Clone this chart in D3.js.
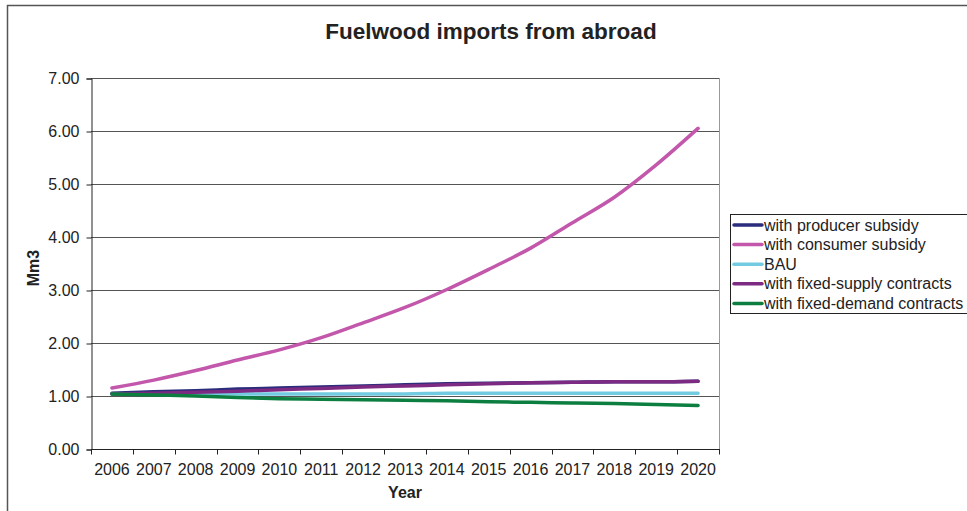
<!DOCTYPE html>
<html>
<head>
<meta charset="utf-8">
<script src="https://cdn.jsdelivr.net/npm/d3@7"></script>
<style>
  html, body { margin: 0; padding: 0; background: #fff; }
  svg { display: block; font-family: "Liberation Sans", Arial, sans-serif; }
</style>
</head>
<body>
<svg id="chart" width="967" height="511"></svg>
<script>
// Fuelwood imports from abroad, Mm3, by scenario
const years = ["2006","2007","2008","2009","2010","2011","2012","2013","2014","2015","2016","2017","2018","2019","2020"];
const producerSubsidy = [1.05,1.08,1.10,1.13,1.15,1.17,1.19,1.21,1.23,1.24,1.25,1.26,1.27,1.27,1.28];
const consumerSubsidy = [1.15,1.30,1.48,1.68,1.87,2.10,2.38,2.67,3.01,3.39,3.79,4.27,4.75,5.36,6.05];
const bau = [1.04,1.04,1.04,1.04,1.04,1.04,1.04,1.04,1.05,1.05,1.05,1.05,1.05,1.05,1.05];
const fixedSupply = [1.04,1.05,1.07,1.09,1.12,1.14,1.17,1.19,1.21,1.23,1.25,1.26,1.27,1.27,1.28];
const fixedDemand = [1.04,1.02,1.00,0.97,0.95,0.94,0.93,0.92,0.91,0.89,0.88,0.87,0.86,0.84,0.82];
const yTicks = [0,1,2,3,4,5,6,7];

const series = [
  { name: "with producer subsidy", values: producerSubsidy, color: "#2a2c7c" },
  { name: "with consumer subsidy", values: consumerSubsidy, color: "#c257ab" },
  { name: "BAU", values: bau, color: "#72cbe0" },
  { name: "with fixed-supply contracts", values: fixedSupply, color: "#7c2a82" },
  { name: "with fixed-demand contracts", values: fixedDemand, color: "#0c7e40" }
];

const svg = d3.select("#chart");
const plot = { left: 91, right: 719, top: 78, bottom: 449 };
const labelFont = 16;

// outer chart frame
svg.append("rect")
  .attr("x", 7.5).attr("y", 5.5)
  .attr("width", 970).attr("height", 520)
  .attr("fill", "none").attr("stroke", "#555").attr("stroke-width", 1.5);

const x = d3.scaleBand().domain(years).range([plot.left, plot.right]);
const y = d3.scaleLinear().domain([0, 7]).range([plot.bottom, plot.top]);

// horizontal gridlines
svg.append("g").selectAll("line").data(yTicks.filter(d => d > 0)).join("line")
  .attr("x1", plot.left).attr("x2", plot.right)
  .attr("y1", d => Math.round(y(d)) + 0.5).attr("y2", d => Math.round(y(d)) + 0.5)
  .attr("stroke", "#555").attr("stroke-width", 1);

// right edge of plot area
svg.append("line")
  .attr("x1", plot.right + 0.5).attr("x2", plot.right + 0.5)
  .attr("y1", plot.top).attr("y2", plot.bottom)
  .attr("stroke", "#999").attr("stroke-width", 1);

// y axis
const yAxis = svg.append("g")
  .attr("transform", `translate(${plot.left + 0.5},0.5)`)
  .call(d3.axisLeft(y).tickValues(yTicks).tickFormat(d3.format(".2f")).tickSize(5).tickPadding(7));
yAxis.select(".domain").attr("stroke", "#222");
yAxis.selectAll(".tick line").attr("stroke", "#222");
yAxis.selectAll("text").attr("font-size", labelFont).attr("fill", "#222")
  .attr("font-family", "Liberation Sans, Arial, sans-serif");

// x axis: ticks sit between categories
const xAxisG = svg.append("g").attr("transform", `translate(0,${plot.bottom + 0.5})`);
xAxisG.append("line")
  .attr("x1", plot.left).attr("x2", plot.right + 1)
  .attr("stroke", "#222");
const boundaries = years.map(d => x(d)).concat([x(years[years.length - 1]) + x.bandwidth()]);
xAxisG.selectAll("line.tk").data(boundaries).join("line").attr("class", "tk")
  .attr("x1", d => Math.round(d) + 0.5).attr("x2", d => Math.round(d) + 0.5)
  .attr("y1", 0).attr("y2", 5).attr("stroke", "#222");
xAxisG.selectAll("text").data(years).join("text")
  .attr("x", d => x(d) + x.bandwidth() / 2)
  .attr("y", 25)
  .attr("text-anchor", "middle")
  .attr("font-size", labelFont).attr("fill", "#222")
  .text(d => d);

// series lines
const line = d3.line()
  .x((d, i) => x(years[i]) + x.bandwidth() / 2)
  .y(d => y(d))
  .curve(d3.curveMonotoneX);

svg.append("g").selectAll("path").data(series).join("path")
  .attr("d", s => line(s.values))
  .attr("fill", "none")
  .attr("stroke", s => s.color)
  .attr("stroke-width", 3.5)
  .attr("stroke-linecap", "round")
  .attr("stroke-linejoin", "round");

// title and axis titles
svg.append("text")
  .attr("x", 491).attr("y", 39)
  .attr("text-anchor", "middle")
  .attr("font-size", 22.5).attr("font-weight", "bold").attr("fill", "#222")
  .text("Fuelwood imports from abroad");

svg.append("text")
  .attr("x", 405).attr("y", 498)
  .attr("text-anchor", "middle")
  .attr("font-size", 16).attr("font-weight", "bold").attr("fill", "#222")
  .text("Year");

svg.append("text")
  .attr("transform", "translate(39,268) rotate(-90)")
  .attr("text-anchor", "middle")
  .attr("font-size", 16).attr("font-weight", "bold").attr("fill", "#222")
  .text("Mm3");

// legend
const legend = svg.append("g").attr("transform", "translate(730,214)");
legend.append("rect")
  .attr("x", 0.5).attr("y", 0.5)
  .attr("width", 240).attr("height", 99)
  .attr("fill", "#fff").attr("stroke", "#222").attr("stroke-width", 1);
const rows = legend.selectAll("g.row").data(series).join("g").attr("class", "row")
  .attr("transform", (d, i) => `translate(0,${11 + i * 19.6})`);
rows.append("line")
  .attr("x1", 4).attr("x2", 32).attr("y1", 0).attr("y2", 0)
  .attr("stroke", d => d.color).attr("stroke-width", 3.5)
  .attr("stroke-linecap", "round");
rows.append("text")
  .attr("x", 34).attr("y", 5.5)
  .attr("font-size", labelFont).attr("fill", "#222")
  .text(d => d.name);
</script>
</body>
</html>
